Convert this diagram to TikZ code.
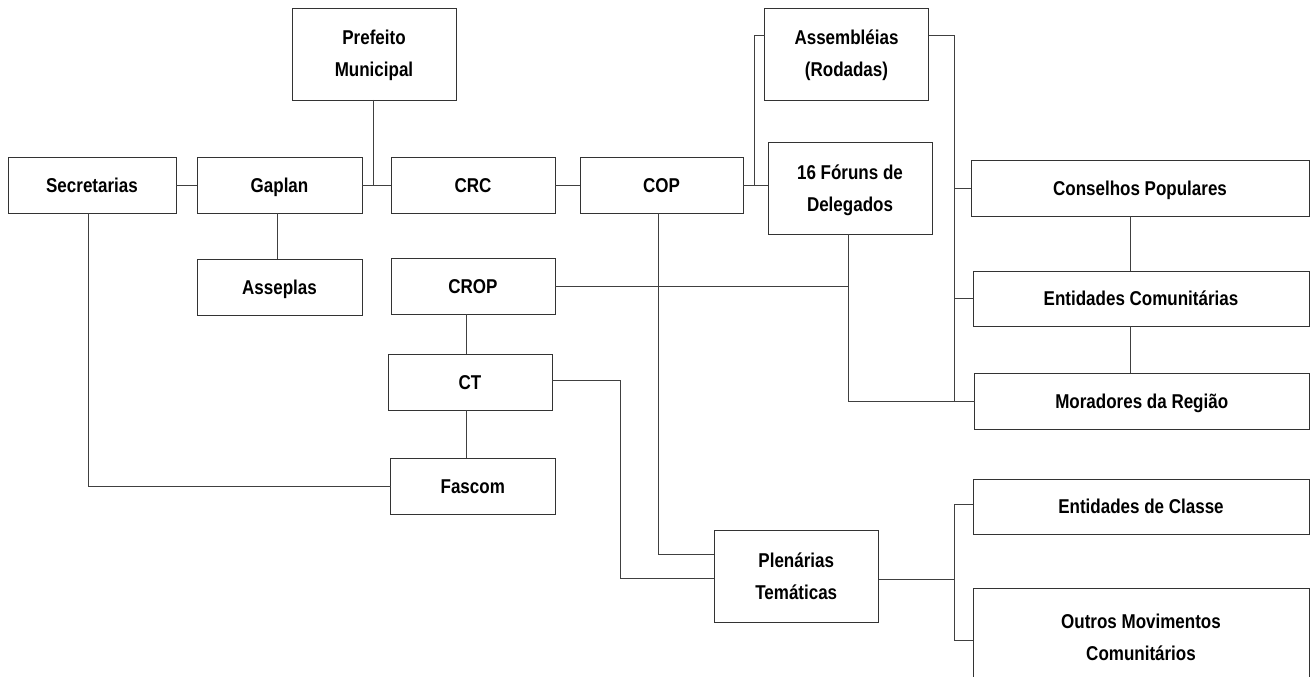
\documentclass[tikz,border=0pt]{standalone}
\usepackage{fontspec}
\setmainfont{Liberation Sans}[FakeStretch=0.85]
\begin{document}
\begin{tikzpicture}[x=1pt,y=-1pt,
  box/.style={draw=black!80,line width=0.9pt,inner sep=0pt,outer sep=0pt,
    minimum height=56pt,align=center,text height=14pt,text depth=0pt,
    font=\fontsize{20}{32}\selectfont\bfseries},
  tall/.style={minimum height=92pt,text height=46pt},
  conn/.style={draw=black!75,line width=0.9pt}]
\clip (0,0) rectangle (1310,677);
\useasboundingbox (0,0) rectangle (1310,677);
\fill[white] (0,0) rectangle (1310,677);
% boxes
\node[box,tall,minimum width=164pt] (pref) at (374,54) {Prefeito\\Municipal};
\node[box,tall,minimum width=164pt] (asm) at (846.5,54) {Assembléias\\(Rodadas)};
\node[box,minimum width=168pt] (sec) at (92,185) {Secretarias};
\node[box,minimum width=165pt] (gap) at (279.5,185) {Gaplan};
\node[box,minimum width=164pt] (crc) at (473,185) {CRC};
\node[box,minimum width=163pt] (cop) at (661.5,185) {COP};
\node[box,tall,minimum width=164pt] (for) at (850,188) {16 Fóruns de\\Delegados};
\node[box,minimum width=338pt] (cons) at (1140,188) {Conselhos Populares};
\node[box,minimum width=336pt,minimum height=55pt] (ec) at (1141,298.5) {Entidades Comunitárias};
\node[box,minimum width=334.5pt] (mor) at (1141.75,401) {Moradores da Região};
\node[box,minimum width=165pt] (asp) at (279.5,287) {Asseplas};
\node[box,minimum width=164pt] (crop) at (473,286) {CROP};
\node[box,minimum width=164pt] (ct) at (470,382) {CT};
\node[box,minimum width=164.5pt] (fas) at (472.75,486) {Fascom};
\node[box,tall,minimum width=164.5pt] (ple) at (796.25,576) {Plenárias\\Temáticas};
\node[box,minimum width=336pt,minimum height=55pt] (ecl) at (1141,506.5) {Entidades de Classe};
\node[box,minimum width=336pt,minimum height=98pt,text height=46pt] (out) at (1141,637) {Outros Movimentos\\Comunitários};
% connectors
\draw[conn] (sec.east) -- (gap.west);
\draw[conn] (gap.east) -- (crc.west);
\draw[conn] ([xshift=-1pt]pref.south) -- ([xshift=-1pt]pref.south |- gap.east);
\draw[conn] (crc.east) -- (cop.west);
\draw[conn] (cop.east) -- (cop.east -| for.west);
\draw[conn] ([yshift=19pt]asm.west) -- ++(-10.5,0) coordinate (bl) -- (bl |- cop.east);
\draw[conn] ([yshift=19pt]asm.east) -- ++(25.5,0) coordinate (rb) -- (rb |- mor.west);
\draw[conn] (rb |- cons.west) -- (cons.west);
\draw[conn] (rb |- ec.west) -- (ec.west);
\draw[conn] (rb |- mor.west) -- (mor.west);
\draw[conn] ([xshift=-2pt]for.south) -- ([xshift=-2pt]for.south |- mor.west) -- (rb |- mor.west);
\draw[conn] (crop.east) -- ([xshift=-2pt]for.south |- crop.east);
\draw[conn] ([xshift=-10pt]cons.south) -- ([xshift=-10pt]cons.south |- ec.north);
\draw[conn] ([xshift=-11pt]ec.south) -- ([xshift=-11pt]ec.south |- mor.north);
\draw[conn] ([xshift=-2.5pt]gap.south) -- ([xshift=-2.5pt]gap.south |- asp.north);
\draw[conn] ([xshift=-7pt]crop.south) -- ([xshift=-7pt]crop.south |- ct.north);
\draw[conn] ([xshift=-4pt]ct.south) -- ([xshift=-4pt]ct.south |- fas.north);
\draw[conn] ([xshift=-4pt]sec.south) -- ([xshift=-4pt]sec.south |- fas.west) -- (fas.west);
\draw[conn] ([xshift=-3.5pt]cop.south) -- ([xshift=-3.5pt]cop.south |- 0,554) -- (ple.west |- 0,554);
\draw[conn] ([yshift=2pt]ct.east) -- ++(68,0) coordinate (k) -- (k |- 0,578) -- (ple.west |- 0,578);
\draw[conn] ([yshift=-3pt]ple.east) -- ++(75.5,0) coordinate (pb);
\draw[conn] (pb |- 0,504) -- (pb |- 0,640);
\draw[conn] (pb |- 0,504) -- (ecl.west |- 0,504);
\draw[conn] (pb |- 0,640) -- (out.west |- 0,640);
\end{tikzpicture}
\end{document}
